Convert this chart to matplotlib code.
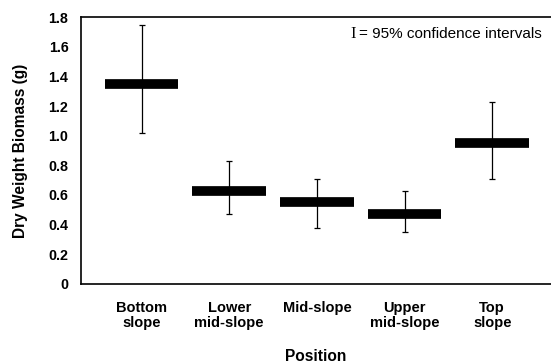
import matplotlib.pyplot as plt
import numpy as np

plt.rcParams['font.family'] = ['Liberation Sans', 'DejaVu Sans']

positions = ["Bottom\nslope", "Lower\nmid-slope", "Mid-slope", "Upper\nmid-slope", "Top\nslope"]
means = [1.35, 0.63, 0.55, 0.47, 0.95]
ci_upper = [1.75, 0.83, 0.71, 0.63, 1.23]
ci_lower = [1.02, 0.47, 0.38, 0.35, 0.71]
y_ticks = [0, 0.2, 0.4, 0.6, 0.8, 1.0, 1.2, 1.4, 1.6, 1.8]
y_tick_labels = ["0", "0.2", "0.4", "0.6", "0.8", "1.0", "1.2", "1.4", "1.6", "1.8"]

fig = plt.figure(figsize=(5.51, 3.64), dpi=100)
ax = fig.add_axes([0.147, 0.22, 0.853, 0.733])

x = np.arange(len(positions))
means_arr = np.array(means)
err = [means_arr - np.array(ci_lower), np.array(ci_upper) - means_arr]

# confidence interval whiskers, then the thick mean bars on top
ax.errorbar(x, means, yerr=err, fmt='none', ecolor='black', elinewidth=0.9,
            capsize=2.3, capthick=0.9)
ax.hlines(means, x - 0.42, x + 0.42, colors='black', linewidth=7)

ax.set_xlim(-0.69, 4.67)
ax.set_ylim(0, 1.8)
ax.set_yticks(y_ticks)
ax.set_yticklabels(y_tick_labels, fontweight='bold', fontsize=10.3)
ax.set_xticks(x)
ax.set_xticklabels(positions, fontweight='bold', fontsize=10.5, linespacing=1.05)
ax.tick_params(axis='both', length=0)
ax.tick_params(axis='y', pad=9)
ax.tick_params(axis='x', pad=12.5)

for side in ['left', 'bottom', 'top']:
    ax.spines[side].set_linewidth(1.2)
ax.spines['right'].set_visible(False)

ax.set_ylabel("Dry Weight Biomass (g)", fontweight='bold', fontsize=11.2, labelpad=15)
ax.set_xlabel("Position", fontweight='bold', fontsize=11.2, labelpad=14)

ax.text(0.574, 0.935, "I", transform=ax.transAxes, fontsize=12,
        family='Liberation Serif', ha='left', va='center')
ax.text(0.592, 0.935, "= 95% confidence intervals", transform=ax.transAxes,
        fontsize=11, ha='left', va='center')

fig.savefig("out.png", dpi=100)
